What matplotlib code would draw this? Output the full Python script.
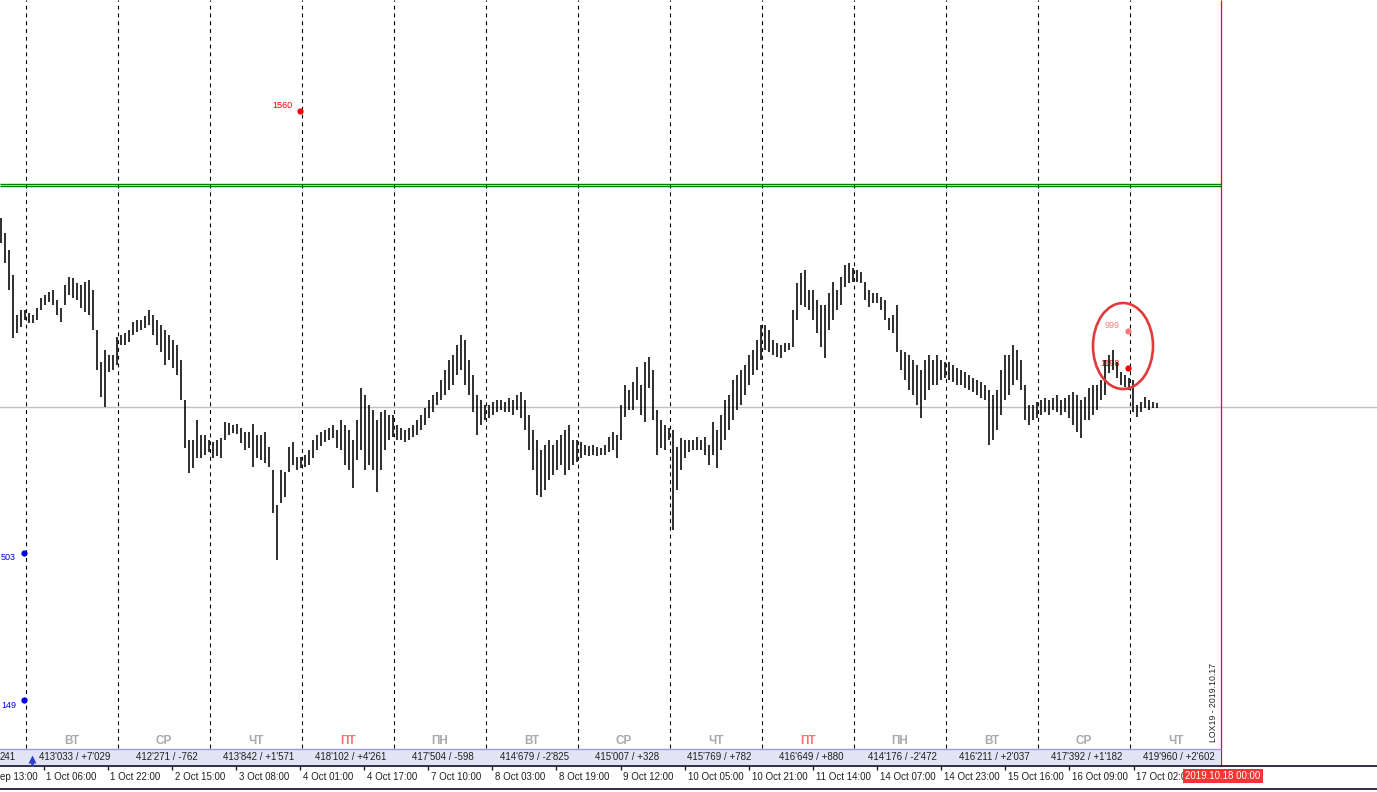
import matplotlib
matplotlib.use("Agg")
import matplotlib.pyplot as plt
import numpy as np
from matplotlib.patches import Ellipse, Rectangle

W, H, DPI = 1377, 792, 100

# hourly bars, price in points (100 points = 1.00)
HIGHS = [
    5582, 5567, 5550, 5525, 5485, 5490, 5490,
    5487, 5485, 5492, 5502, 5505, 5508, 5510, 5500, 5492, 5515, 5523, 5522, 5517, 5515, 5518, 5520, 5510, 5470, 5438, 5450, 5445, 5445, 5463,
    5465, 5467, 5470, 5478, 5480, 5480, 5484, 5490, 5485, 5480, 5475, 5470, 5465, 5460, 5455, 5440, 5400, 5360, 5360, 5380, 5365, 5365, 5360,
    5358, 5360, 5362, 5378, 5377, 5375, 5376, 5372, 5368, 5368, 5376, 5365, 5365, 5368, 5353, 5330, 5295, 5330, 5328, 5353, 5358, 5343, 5343,
    5345, 5350, 5360, 5365, 5368, 5370, 5372, 5375, 5370, 5380, 5375, 5370, 5360, 5380, 5412, 5405, 5395, 5390, 5380, 5388, 5390, 5385, 5385,
    5375, 5372, 5370, 5372, 5375, 5380, 5385, 5392, 5400, 5405, 5408, 5420, 5430, 5440, 5445, 5455, 5465, 5460, 5440, 5425, 5405, 5400, 5395,
    5395, 5398, 5400, 5400, 5398, 5402, 5400, 5405, 5408, 5400, 5385, 5370, 5360, 5350, 5355, 5360, 5355, 5360, 5365, 5370, 5375, 5360, 5360,
    5358, 5355, 5354, 5355, 5353, 5352, 5355, 5363, 5368, 5365, 5395, 5415, 5410, 5418, 5433, 5415, 5438, 5443, 5430, 5390, 5380, 5375, 5372,
    5370, 5353, 5362, 5360, 5360, 5360, 5363, 5360, 5363, 5355, 5378, 5370, 5385, 5400, 5405, 5420, 5425, 5430, 5435, 5445, 5450, 5460, 5475,
    5475, 5470, 5460, 5457, 5455, 5457, 5457, 5490, 5517, 5527, 5530, 5510, 5510, 5500, 5495, 5495, 5507, 5518, 5510, 5523, 5535, 5537, 5532,
    5530, 5528, 5518, 5510, 5507, 5507, 5503, 5500, 5482, 5485, 5495, 5450, 5448, 5445, 5440, 5435, 5430, 5440, 5445, 5440, 5445, 5440, 5438,
    5438, 5435, 5432, 5430, 5428, 5425, 5422, 5420, 5418, 5415, 5410, 5405, 5410, 5430, 5445, 5445, 5455, 5450, 5440, 5415, 5395, 5395, 5398,
    5400, 5402, 5400, 5402, 5405, 5400, 5402, 5405, 5408, 5405, 5400, 5403, 5412, 5415, 5415, 5420, 5440, 5445, 5450, 5438, 5428, 5425, 5422,
    5420, 5395, 5398, 5403, 5400, 5398, 5397,
]
LOWS = [
    5557, 5537, 5510, 5462, 5467, 5473, 5480,
    5477, 5477, 5480, 5490, 5495, 5498, 5495, 5485, 5478, 5495, 5505, 5502, 5500, 5492, 5488, 5485, 5470, 5430, 5403, 5393, 5428, 5430, 5435,
    5455, 5455, 5458, 5465, 5468, 5470, 5472, 5475, 5465, 5455, 5448, 5435, 5440, 5432, 5425, 5400, 5352, 5327, 5332, 5342, 5342, 5345, 5348,
    5342, 5344, 5342, 5360, 5365, 5367, 5366, 5357, 5350, 5352, 5333, 5342, 5340, 5337, 5333, 5287, 5240, 5297, 5303, 5328, 5335, 5330, 5332,
    5333, 5335, 5342, 5350, 5354, 5358, 5360, 5362, 5352, 5350, 5335, 5330, 5312, 5340, 5350, 5330, 5335, 5330, 5308, 5330, 5350, 5360, 5363,
    5360, 5360, 5358, 5360, 5363, 5365, 5370, 5375, 5382, 5388, 5395, 5400, 5405, 5410, 5415, 5425, 5430, 5415, 5405, 5388, 5365, 5375, 5380,
    5382, 5385, 5388, 5390, 5388, 5388, 5385, 5390, 5382, 5370, 5350, 5330, 5305, 5303, 5310, 5320, 5325, 5330, 5335, 5325, 5330, 5335, 5338,
    5342, 5345, 5344, 5345, 5344, 5345, 5345, 5348, 5350, 5342, 5360, 5383, 5390, 5390, 5400, 5385, 5378, 5412, 5380, 5345, 5352, 5350, 5360,
    5270, 5310, 5330, 5342, 5348, 5350, 5350, 5350, 5345, 5335, 5345, 5332, 5350, 5360, 5370, 5380, 5390, 5395, 5405, 5415, 5425, 5430, 5440,
    5450, 5448, 5445, 5443, 5442, 5448, 5450, 5453, 5480, 5495, 5493, 5490, 5480, 5467, 5453, 5442, 5470, 5480, 5490, 5495, 5513, 5517, 5518,
    5518, 5517, 5500, 5493, 5497, 5497, 5490, 5480, 5470, 5467, 5448, 5430, 5420, 5410, 5405, 5395, 5382, 5400, 5410, 5415, 5415, 5420, 5422,
    5420, 5418, 5415, 5415, 5412, 5410, 5408, 5405, 5402, 5400, 5355, 5360, 5370, 5385, 5400, 5405, 5415, 5420, 5410, 5380, 5375, 5380, 5382,
    5385, 5388, 5385, 5390, 5388, 5385, 5388, 5382, 5375, 5368, 5362, 5380, 5380, 5385, 5390, 5400, 5405, 5427, 5430, 5422, 5415, 5413, 5410,
    5388, 5383, 5388, 5392, 5390, 5392, 5392,
]

DAY_NAMES = ["ВТ", "СР", "ЧТ", "ПТ", "ПН", "ВТ", "СР", "ЧТ", "ПТ", "ПН", "ВТ", "СР", "ЧТ"]
DAY_STATS = [
    "413'033 / +7'029", "412'271 / -762", "413'842 / +1'571", "418'102 / +4'261",
    "417'504 / -598", "414'679 / -2'825", "415'007 / +328", "415'769 / +782",
    "416'649 / +880", "414'176 / -2'472", "416'211 / +2'037", "417'392 / +1'182",
    "419'960 / +2'602",
]
# first and last labels are clipped in the source screenshot
TIME_LABELS = [
    "ep 13:00", "1 Oct 06:00", "1 Oct 22:00", "2 Oct 15:00", "3 Oct 08:00",
    "4 Oct 01:00", "4 Oct 17:00", "7 Oct 10:00", "8 Oct 03:00", "8 Oct 19:00",
    "9 Oct 12:00", "10 Oct 05:00", "10 Oct 21:00", "11 Oct 14:00", "14 Oct 07:00",
    "14 Oct 23:00", "15 Oct 16:00", "16 Oct 09:00", "17 Oct 02:0",
]

GREEN_LEVELS = [56.16, 56.14]
LAST_PRICE = 53.93

STRIKE_LABELS = ["1560", "503", "149", "999", "1198"]
STRIKE_BAR = [74.75, 5.75, 5.75, 281.75, 281.75]
STRIKE_PRICE = [56.89, 52.47, 51.00, 54.69, 54.32]
STRIKE_COLORS = ["#ff0000", "#0000ee", "#0000ee", "#f47c7c", "#ff0000"]

FONT = "Liberation Sans"
BAND = "#e3e3f6"


def xi(px):
    return (px - 1) / 4


def yf(py):
    return 1 - py / H


def main():
    plt.rcParams.update({"font.family": [FONT, "DejaVu Sans"]})
    fig = plt.figure(figsize=(W / DPI, H / DPI), dpi=DPI, facecolor="white")
    ax = fig.add_axes([0, 0, 1, 1])
    ax.set_axis_off()
    ax.set_xlim(xi(0), xi(W))
    ax.set_ylim(58.0 - H / 100, 58.0)
    bx = ax.get_xaxis_transform()

    n_days = len(DAY_NAMES)
    seps = xi(26) + 23 * np.arange(n_days)
    red_x = xi(1221)

    # session separators
    ax.vlines(seps, yf(748), 1, transform=bx, colors="black", lw=0.8,
              linestyles=(0, (3.5, 3.5)), zorder=1)

    # levels
    ax.axhline(LAST_PRICE, color="#c0c0c0", lw=1, zorder=1)
    for lvl in GREEN_LEVELS:
        ax.hlines(lvl, xi(0), red_x, colors="#008000", lw=1, zorder=2)
    ax.vlines(red_x, yf(766), 1, transform=bx, colors="#ff0000", lw=0.9, zorder=3)

    # strike markers
    for lab, x, y, c in zip(STRIKE_LABELS, STRIKE_BAR, STRIKE_PRICE, STRIKE_COLORS):
        ax.plot(x, y, "o", color=c, ms=4.5, mec="none", zorder=2)
        dy = -5 if y < 53 else 5
        ax.annotate(lab, (x, y), xytext=(-8, dy), textcoords="offset pixels",
                    ha="right", va="center", fontsize=6.5, color=c, zorder=2)

    # price bars
    idx = np.arange(len(HIGHS))
    highs = np.array(HIGHS) / 100
    lows = np.array(LOWS) / 100
    ax.vlines(idx, lows, highs, colors="black", lw=1.15, zorder=4)

    ax.add_patch(Ellipse((xi(1123), 58 - 3.46), 15, 0.86, fill=False,
                         ec="#e03a3a", lw=1.9, zorder=5))

    # daily stats band
    ax.add_patch(Rectangle((xi(-5), yf(765)), red_x - xi(-5), yf(749) - yf(765),
                           transform=bx, fc=BAND, ec="none", zorder=6))
    ax.hlines(yf(749), xi(-5), red_x, transform=bx, colors="#9c9cd8", lw=1, zorder=7)
    ax.hlines(yf(765.5), xi(-5), xi(W + 5), transform=bx, colors="#1e1e3a", lw=1.3, zorder=7)
    ax.hlines(yf(789), xi(-5), xi(W + 5), transform=bx, colors="#1e1e3a", lw=1.3, zorder=7)

    mids = seps + 11.5
    for i, (name, stat) in enumerate(zip(DAY_NAMES, DAY_STATS)):
        col = "#ff6f6f" if name == "ПТ" else "#a9a9a9"
        ax.text(mids[i], yf(741), name, transform=bx, ha="center", va="center",
                fontsize=8.5, fontweight="bold", color=col, zorder=7)
        ax.text(mids[i] + 0.7, yf(757), stat, transform=bx, ha="center", va="center",
                fontsize=7, color="#202020", zorder=8)
    ax.text(xi(16), yf(757), "241", transform=bx, ha="right", va="center",
            fontsize=7, color="#202020", zorder=8)
    ax.plot([xi(32)], [yf(759)], marker="^", ms=6, color="#3040c8", mec="none",
            transform=bx, zorder=8)
    ax.plot([xi(32), xi(32)], [yf(761), yf(765)], color="#3040c8", lw=2,
            transform=bx, zorder=8)
    ax.text(xi(1213), yf(742), "LOX19 - 2019.10.17", transform=bx, rotation=90,
            ha="center", va="bottom", fontsize=6.3, color="#202020", zorder=8)

    # time axis
    ticks = xi(43.5) + 16.03 * np.arange(-1, len(TIME_LABELS) - 1)
    ax.vlines(ticks, yf(770), yf(766), transform=bx, colors="#202020", lw=1, zorder=8)
    for k, (t, lab) in enumerate(zip(ticks, TIME_LABELS)):
        x = xi(0.5) if k == 0 else t + 0.7
        ax.text(x, yf(776.5), lab, transform=bx, ha="left", va="center",
                fontsize=7, color="#202020", zorder=8)
    ax.text(xi(1223), yf(776), "2019.10.18 00:00", transform=bx, ha="center",
            va="center", fontsize=7, color="white", zorder=9,
            bbox=dict(boxstyle="square,pad=0.25", fc="#f83434", ec="none"))

    fig.savefig("out.png", dpi=DPI, facecolor="white")
    plt.close(fig)


if __name__ == "__main__":
    main()
